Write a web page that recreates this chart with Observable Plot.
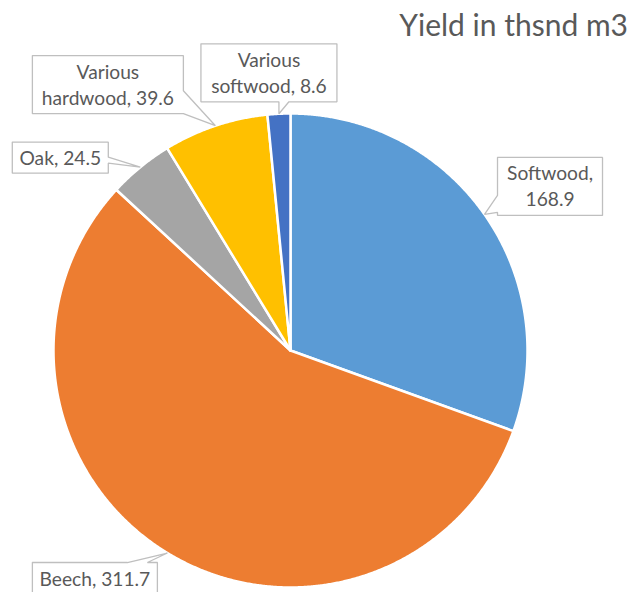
<!DOCTYPE html>
<html>
<head>
<meta charset="utf-8">
<script src="https://cdn.jsdelivr.net/npm/d3@7"></script>
<script src="https://cdn.jsdelivr.net/npm/@observablehq/plot@0.6"></script>
<style>
  html, body { margin: 0; padding: 0; background: #fff; }
  #title { position: relative; width: 637px; height: 40px; font-family: Lato, sans-serif; }
  #title span { position: absolute; right: 9px; top: 9px; font-size: 30px; line-height: 30px; color: #595959; white-space: nowrap; }
  #chart svg { display: block; overflow: visible; }
</style>
</head>
<body>
<div id="title"><span>Yield in thsnd m3</span></div>
<div id="chart"></div>
<script>
// ---- data ----
const categories = ["Softwood", "Beech", "Oak", "Various hardwood", "Various softwood"];
const values = [168.9, 311.7, 24.5, 39.6, 8.6];
const colors = ["#5B9BD5", "#ED7D31", "#A5A5A5", "#FFC000", "#4472C4"];

// ---- callout layout (px, relative to the slice's arc midpoint) ----
const calloutLayout = [
  {dx: 13,   dy: -57,  w: 105, h: 58, side: "left",   base: [38, 55], wrap: true},
  {dx: -135, dy: 9.5,  w: 125, h: 31, side: "top",    base: [95, 115], wrap: false},
  {dx: -128, dy: -25,  w: 96,  h: 31, side: "right",  base: [15, 21], wrap: false},
  {dx: -183, dy: -70,  w: 151, h: 58, side: "right",  base: [35, 58], wrap: true},
  {dx: -78,  dy: -70,  w: 136, h: 58, side: "bottom", base: [78, 88], wrap: true}
];

const R = 237;            // radius in px
const FS = 19.2;          // label font size
const rows = categories.map((name, i) => ({name, value: values[i]}));
const arcs = d3.pie().sort(null).value(d => d.value)(rows);

// slice polygons
const slicePts = [];
for (const a of arcs) {
  const n = Math.max(2, Math.ceil((a.endAngle - a.startAngle) / 0.005));
  slicePts.push({name: a.data.name, x: 0, y: 0});
  for (let k = 0; k <= n; k++) {
    const t = a.startAngle + (a.endAngle - a.startAngle) * k / n;
    slicePts.push({name: a.data.name, x: Math.sin(t), y: Math.cos(t)});
  }
  slicePts.push({name: a.data.name, x: 0, y: 0});
}

// callouts
const boxPts = [];
const textRows = [];
arcs.forEach((a, i) => {
  const L = calloutLayout[i];
  const mid = (a.startAngle + a.endAngle) / 2;
  const tip = {x: Math.sin(mid), y: Math.cos(mid)};
  const left = tip.x + L.dx / R, top = tip.y - L.dy / R;
  const P = (px, py) => ({x: left + px / R, y: top - py / R});
  const [p, q] = L.base, w = L.w, h = L.h;
  let pts;
  if (L.side === "top") pts = [P(0,0), P(p,0), tip, P(q,0), P(w,0), P(w,h), P(0,h)];
  else if (L.side === "right") pts = [P(0,0), P(w,0), P(w,p), tip, P(w,q), P(w,h), P(0,h)];
  else if (L.side === "bottom") pts = [P(0,0), P(w,0), P(w,h), P(q,h), tip, P(p,h), P(0,h)];
  else pts = [P(0,0), P(w,0), P(w,h), P(0,h), P(0,q), tip, P(0,p)];
  pts.push(pts[0]);
  pts.forEach(pt => boxPts.push({id: a.data.name, ...pt}));
  const label = `${a.data.name}, ${a.data.value}`;
  let lines;
  if (L.wrap) {
    const sp = label.indexOf(" ");
    lines = [label.slice(0, sp), label.slice(sp + 1)];
  } else lines = [label];
  lines.forEach((t, j) => {
    const baseline = 23 + 26 * j;
    const c = P(w / 2, baseline - 0.32 * FS);
    textRows.push({text: t, x: c.x, y: c.y});
  });
});

const chart = Plot.plot({
  width: 637,
  height: 552,
  marginLeft: 53,
  marginRight: 110,
  marginTop: 73,
  marginBottom: 5,
  x: {domain: [-1, 1], axis: null},
  y: {domain: [-1, 1], axis: null},
  color: {domain: categories, range: colors},
  style: {background: "white", overflow: "visible"},
  marks: [
    Plot.line(slicePts, {x: "x", y: "y", z: "name", fill: "name", stroke: "white", strokeWidth: 2.5, strokeLinejoin: "round", curve: "linear"}),
    Plot.line(boxPts, {x: "x", y: "y", z: "id", fill: "white", stroke: "#BFBFBF", strokeWidth: 1.3, strokeLinejoin: "miter", curve: "linear"}),
    Plot.text(textRows, {x: "x", y: "y", text: "text", fill: "#595959", fontSize: FS, fontFamily: "Lato, sans-serif", textAnchor: "middle", lineAnchor: "middle"})
  ]
});
document.getElementById("chart").appendChild(chart);
</script>
</body>
</html>
